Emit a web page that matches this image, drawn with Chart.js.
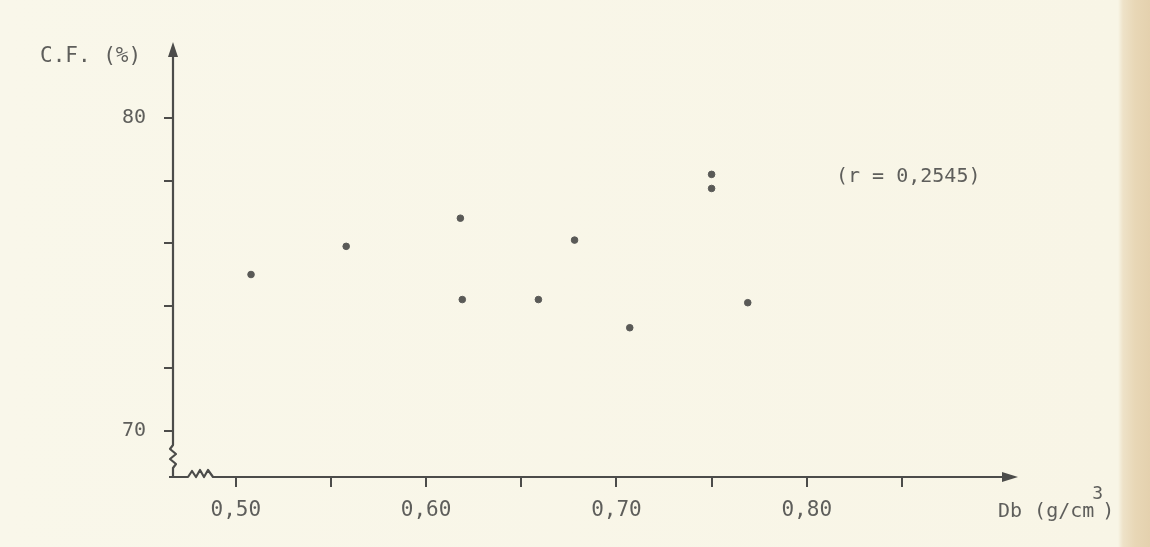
<!DOCTYPE html>
<html>
<head>
<meta charset="utf-8">
<script src="https://cdn.jsdelivr.net/npm/chart.js@4"></script>
<style>
  html, body { margin: 0; padding: 0; }
  body {
    width: 1150px; height: 547px; overflow: hidden;
    background: linear-gradient(to right, #f9f7ea 0, #f8f5e6 1118px, #eee2c8 1123px, #e8d7b6 1135px, #e4d1ae 1150px);
  }
  canvas { display: block; }
</style>
</head>
<body>
<canvas id="chart" width="1150" height="547"></canvas>
<script>
// Db (g/cm3) against C.F. (%)
const dbValues = [0.508, 0.558, 0.618, 0.619, 0.659, 0.678, 0.707, 0.750, 0.750, 0.769];
const cfValues = [75.0, 75.9, 76.8, 74.2, 74.2, 76.1, 73.3, 78.2, 77.75, 74.1];

const xTickValues = [0.50, 0.55, 0.60, 0.65, 0.70, 0.75, 0.80, 0.85];
const xLabelled = [0.50, 0.60, 0.70, 0.80];
const yTickValues = [70, 72, 74, 76, 78, 80];
const yLabelled = [70, 80];

const xTitle = 'Db (g/cm';
const yTitle = 'C.F. (%)';
const note = '(r = 0,2545)';

const ink = '#4c4c4a';
const textInk = '#5e5e5b';
const font = '"DejaVu Sans Mono", "Liberation Mono", monospace';

function near(list, v) {
    return list.some(t => Math.abs(t - v) < 1e-6);
}

// hand drawn axes with break marks and arrows, plus the free texts
const paperPlugin = {
    id: 'paper',
    afterDraw(chart) {
        const ctx = chart.ctx;
        const a = chart.chartArea;
        ctx.save();
        ctx.strokeStyle = ink;
        ctx.fillStyle = ink;
        ctx.lineWidth = 2.2;
        ctx.lineJoin = 'round';

        // y axis
        ctx.beginPath();
        ctx.moveTo(a.left, a.top + 12);
        ctx.lineTo(a.left, a.bottom - 32);
        ctx.lineTo(a.left - 3, a.bottom - 28);
        ctx.lineTo(a.left + 3, a.bottom - 23);
        ctx.lineTo(a.left - 3, a.bottom - 18);
        ctx.lineTo(a.left + 3, a.bottom - 13);
        ctx.lineTo(a.left, a.bottom - 9);
        ctx.lineTo(a.left, a.bottom);
        ctx.stroke();

        // x axis
        ctx.beginPath();
        ctx.moveTo(a.left - 4, a.bottom);
        ctx.lineTo(a.left + 15, a.bottom);
        ctx.lineTo(a.left + 19, a.bottom - 6);
        ctx.lineTo(a.left + 23, a.bottom);
        ctx.lineTo(a.left + 27, a.bottom - 7);
        ctx.lineTo(a.left + 31, a.bottom);
        ctx.lineTo(a.left + 35, a.bottom - 7);
        ctx.lineTo(a.left + 40, a.bottom);
        ctx.lineTo(a.right - 14, a.bottom);
        ctx.stroke();

        // arrow heads
        ctx.beginPath();
        ctx.moveTo(a.left, a.top);
        ctx.lineTo(a.left - 5, a.top + 15);
        ctx.lineTo(a.left + 5, a.top + 15);
        ctx.closePath();
        ctx.fill();
        ctx.beginPath();
        ctx.moveTo(a.right, a.bottom);
        ctx.lineTo(a.right - 16, a.bottom - 5);
        ctx.lineTo(a.right - 16, a.bottom + 5);
        ctx.closePath();
        ctx.fill();

        // texts
        ctx.fillStyle = textInk;
        ctx.font = '21px ' + font;
        ctx.textBaseline = 'middle';
        ctx.textAlign = 'left';
        ctx.fillText(yTitle, 40, 57);
        ctx.font = '20px ' + font;
        ctx.fillText(note, 836, 177);
        ctx.fillText(xTitle, 998, 512);
        const w = ctx.measureText(xTitle).width;
        ctx.font = '18px ' + font;
        ctx.fillText('3', 996 + w, 494);
        ctx.font = '20px ' + font;
        ctx.fillText(')', 996 + w + 10, 512);
        ctx.restore();
    }
};

const ctx = document.getElementById('chart').getContext('2d');
new Chart(ctx, {
    type: 'scatter',
    data: {
        datasets: [{
            label: 'C.F.',
            data: dbValues.map((v, i) => ({x: v, y: cfValues[i]})),
            backgroundColor: '#5a5a57',
            borderColor: '#5a5a57',
            pointRadius: 3.3,
            pointHoverRadius: 3.3
        }]
    },
    options: {
        responsive: false,
        animation: false,
        events: [],
        layout: { padding: { top: 42, right: 132, left: 0, bottom: 0 } },
        plugins: {
            legend: { display: false },
            tooltip: { enabled: false }
        },
        scales: {
            x: {
                type: 'linear',
                min: 0.467,
                max: 0.911,
                afterFit: s => { s.height = 70; },
                afterBuildTicks: s => { s.ticks = xTickValues.map(v => ({value: v})); },
                border: { display: false },
                grid: {
                    drawOnChartArea: false,
                    drawTicks: true,
                    tickLength: 10,
                    color: ink,
                    lineWidth: 2
                },
                ticks: {
                    padding: 11,
                    color: textInk,
                    font: { family: font, size: 21 },
                    maxRotation: 0,
                    autoSkip: false,
                    callback: v => near(xLabelled, v) ? v.toFixed(2).replace('.', ',') : ''
                }
            },
            y: {
                type: 'linear',
                min: 68.53,
                max: 82.43,
                afterFit: s => { s.width = 173; },
                afterBuildTicks: s => { s.ticks = yTickValues.map(v => ({value: v})); },
                border: { display: false },
                grid: {
                    drawOnChartArea: false,
                    drawTicks: true,
                    tickLength: 9,
                    color: ink,
                    lineWidth: 2
                },
                ticks: {
                    padding: 18,
                    color: textInk,
                    font: { family: font, size: 20 },
                    autoSkip: false,
                    callback: v => near(yLabelled, v) ? String(v) : ''
                }
            }
        }
    },
    plugins: [paperPlugin]
});
</script>
</body>
</html>
